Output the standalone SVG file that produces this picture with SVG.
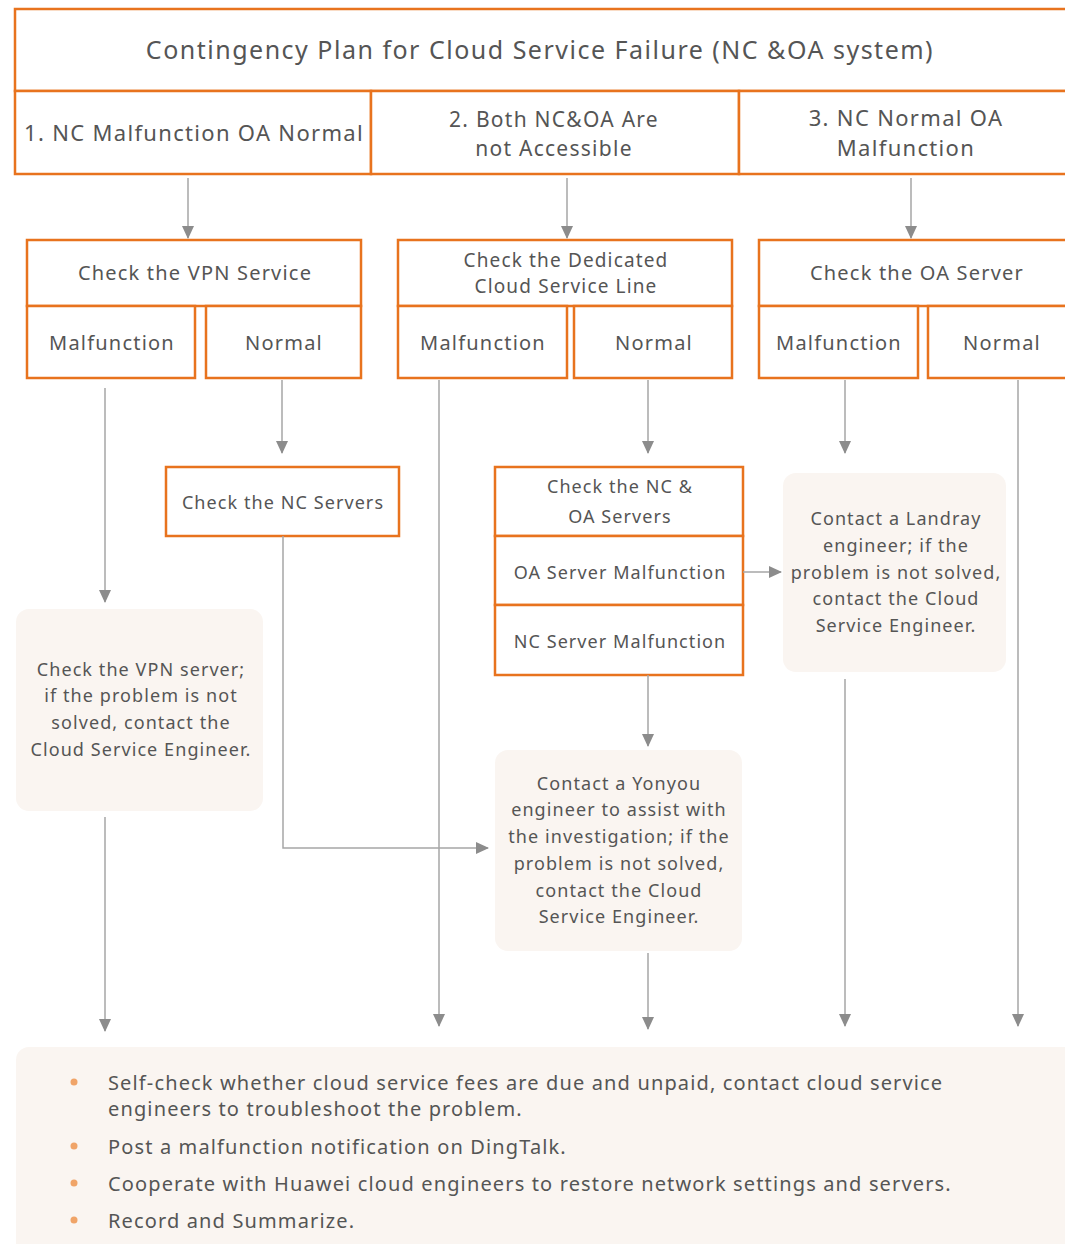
<svg xmlns="http://www.w3.org/2000/svg" width="1065" height="1244" viewBox="0 0 1065 1244">
<style>
.box{fill:#fff;stroke:#E8731E;stroke-width:2.5}
.soft{fill:#FAF5F1;stroke:none}
.t{font-family:"Noto Sans","Open Sans",sans-serif;fill:#555;text-anchor:middle;letter-spacing:0.06em}
.lg{font-size:25px}
.md{font-size:22px}
.md2{font-size:21px}
.sm{font-size:20px}
.sm2{font-size:19px}
.xs{font-size:18px}
.bl{font-family:"Noto Sans","Open Sans",sans-serif;fill:#555;font-size:20px;letter-spacing:0.057em}
.ln{fill:none;stroke:#A6A6A6;stroke-width:1.5}
</style>
<defs>
<marker id="ah" markerWidth="14" markerHeight="12" refX="12" refY="6" orient="auto" markerUnits="userSpaceOnUse">
<path d="M0,0 L13,6 L0,12 Z" fill="#8C8C8C"/>
</marker>
</defs>
<rect width="1065" height="1244" fill="#fff"/>

<g id="title">
<rect class="box" x="15" y="9" width="1060" height="82"/>
<text class="t lg" x="540" y="59">Contingency Plan for Cloud Service Failure (NC &amp;OA system)</text>
</g>
<g id="case1">
<rect class="box" x="15" y="91" width="356" height="83"/>
<text class="t md" x="194" y="141">1. NC Malfunction OA Normal</text>
</g>
<g id="case2">
<rect class="box" x="371" y="91" width="368" height="83"/>
<text class="t md2" x="554" y="127">2. Both NC&amp;OA Are</text>
<text class="t md2" x="554" y="156">not Accessible</text>
</g>
<g id="case3">
<rect class="box" x="739" y="91" width="336" height="83"/>
<text class="t md" x="906" y="126">3. NC Normal OA</text>
<text class="t md" x="906" y="156">Malfunction</text>
</g>

<g id="vpn">
<rect class="box" x="27" y="240" width="334" height="66"/>
<text class="t sm" x="195" y="280">Check the VPN Service</text>
</g>
<g id="vpn-mal">
<rect class="box" x="27" y="306" width="168" height="72"/>
<text class="t sm" x="112" y="350">Malfunction</text>
</g>
<g id="vpn-norm">
<rect class="box" x="206" y="306" width="155" height="72"/>
<text class="t sm" x="284" y="350">Normal</text>
</g>

<g id="line">
<rect class="box" x="398" y="240" width="334" height="66"/>
<text class="t sm2" x="566" y="267">Check the Dedicated</text>
<text class="t sm2" x="566" y="293">Cloud Service Line</text>
</g>
<g id="line-mal">
<rect class="box" x="398" y="306" width="169" height="72"/>
<text class="t sm" x="483" y="350">Malfunction</text>
</g>
<g id="line-norm">
<rect class="box" x="574" y="306" width="158" height="72"/>
<text class="t sm" x="654" y="350">Normal</text>
</g>

<g id="oa">
<rect class="box" x="759" y="240" width="316" height="66"/>
<text class="t sm" x="917" y="280">Check the OA Server</text>
</g>
<g id="oa-mal">
<rect class="box" x="759" y="306" width="159" height="72"/>
<text class="t sm" x="839" y="350">Malfunction</text>
</g>
<g id="oa-norm">
<rect class="box" x="928" y="306" width="147" height="72"/>
<text class="t sm" x="1002" y="350">Normal</text>
</g>

<g id="nc-servers">
<rect class="box" x="166" y="467" width="233" height="69"/>
<text class="t xs" x="283" y="509">Check the NC Servers</text>
</g>
<g id="nc-oa-servers">
<rect class="box" x="495" y="467" width="248" height="69"/>
<text class="t xs" x="620" y="493">Check the NC &amp;</text>
<text class="t xs" x="620" y="523">OA Servers</text>
</g>
<g id="oa-server-mal">
<rect class="box" x="495" y="536" width="248" height="69"/>
<text class="t xs" x="620" y="579">OA Server Malfunction</text>
</g>
<g id="nc-server-mal">
<rect class="box" x="495" y="605" width="248" height="70"/>
<text class="t xs" x="620" y="648">NC Server Malfunction</text>
</g>

<g id="vpn-server">
<rect class="soft" x="16" y="609" width="247" height="202" rx="13"/>
<text class="t xs" x="141" y="676">Check the VPN server;</text>
<text class="t xs" x="141" y="702">if the problem is not</text>
<text class="t xs" x="141" y="729">solved, contact the</text>
<text class="t xs" x="141" y="756">Cloud Service Engineer.</text>
</g>
<g id="landray">
<rect class="soft" x="783" y="473" width="223" height="199" rx="13"/>
<text class="t xs" x="896" y="525">Contact a Landray</text>
<text class="t xs" x="896" y="552">engineer; if the</text>
<text class="t xs" x="896" y="579">problem is not solved,</text>
<text class="t xs" x="896" y="605">contact the Cloud</text>
<text class="t xs" x="896" y="632">Service Engineer.</text>
</g>
<g id="yonyou">
<rect class="soft" x="495" y="750" width="247" height="201" rx="13"/>
<text class="t xs" x="619" y="790">Contact a Yonyou</text>
<text class="t xs" x="619" y="816">engineer to assist with</text>
<text class="t xs" x="619" y="843">the investigation; if the</text>
<text class="t xs" x="619" y="870">problem is not solved,</text>
<text class="t xs" x="619" y="897">contact the Cloud</text>
<text class="t xs" x="619" y="923">Service Engineer.</text>
</g>

<g id="actions">
<rect class="soft" x="16" y="1047" width="1070" height="210" rx="13"/>
<circle cx="74" cy="1082" r="3.5" fill="#F0A468"/>
<circle cx="74" cy="1146" r="3.5" fill="#F0A468"/>
<circle cx="74" cy="1183" r="3.5" fill="#F0A468"/>
<circle cx="74" cy="1220" r="3.5" fill="#F0A468"/>
<text class="bl" x="108" y="1090">Self-check whether cloud service fees are due and unpaid, contact cloud service</text>
<text class="bl" x="108" y="1116">engineers to troubleshoot the problem.</text>
<text class="bl" x="108" y="1154">Post a malfunction notification on DingTalk.</text>
<text class="bl" x="108" y="1191">Cooperate with Huawei cloud engineers to restore network settings and servers.</text>
<text class="bl" x="108" y="1228">Record and Summarize.</text>
</g>

<g id="connectors">
<path class="ln" d="M188,178 V238" marker-end="url(#ah)"/>
<path class="ln" d="M567,178 V238" marker-end="url(#ah)"/>
<path class="ln" d="M911,178 V238" marker-end="url(#ah)"/>
<path class="ln" d="M105,388 V602" marker-end="url(#ah)"/>
<path class="ln" d="M282,380 V453" marker-end="url(#ah)"/>
<path class="ln" d="M439,380 V1026" marker-end="url(#ah)"/>
<path class="ln" d="M648,380 V453" marker-end="url(#ah)"/>
<path class="ln" d="M845,380 V453" marker-end="url(#ah)"/>
<path class="ln" d="M1018,380 V1026" marker-end="url(#ah)"/>
<path class="ln" d="M743,572 H781" marker-end="url(#ah)"/>
<path class="ln" d="M283,536 V848 H488" marker-end="url(#ah)"/>
<path class="ln" d="M648,675 V746" marker-end="url(#ah)"/>
<path class="ln" d="M105,817 V1031" marker-end="url(#ah)"/>
<path class="ln" d="M648,953 V1029" marker-end="url(#ah)"/>
<path class="ln" d="M845,679 V1026" marker-end="url(#ah)"/>
</g>
</svg>
